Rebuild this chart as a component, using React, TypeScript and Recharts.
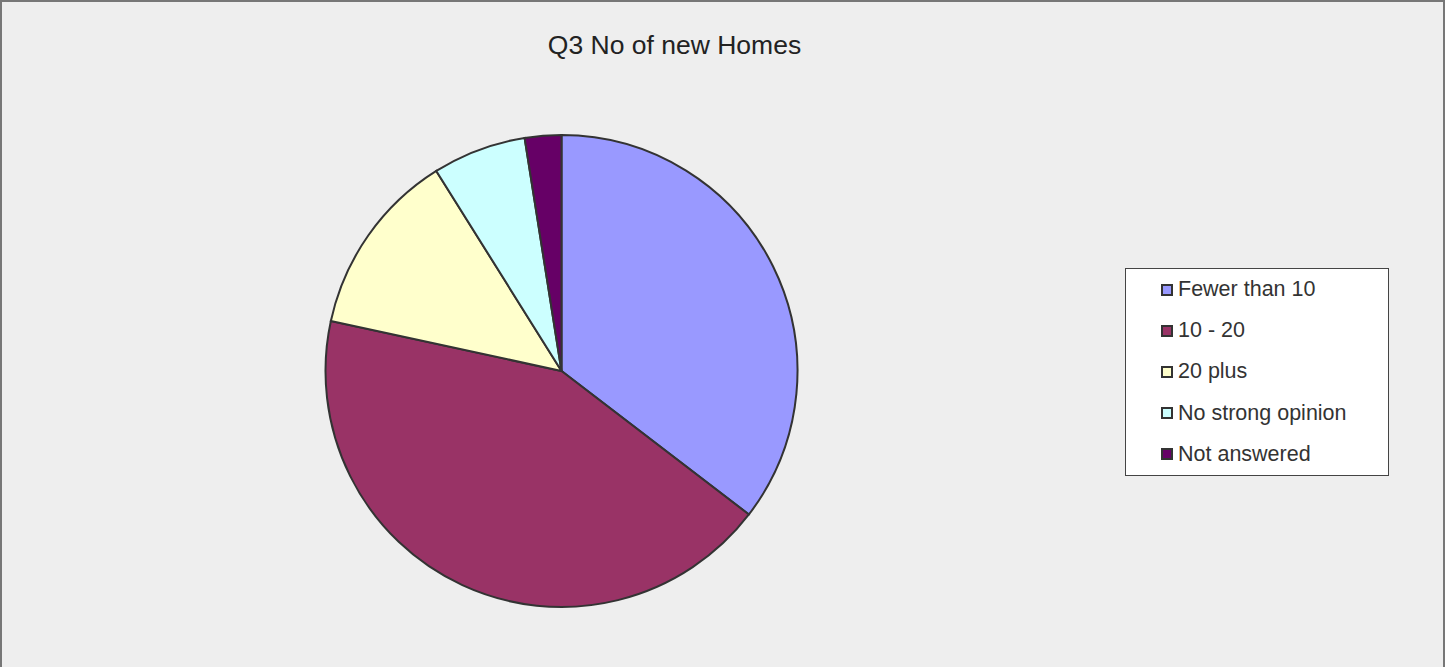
import { PieChart, Pie, Cell, Legend } from "recharts"

const categories = ["Fewer than 10", "10 - 20", "20 plus", "No strong opinion", "Not answered"]
const responses = [35.4, 43.0, 12.7, 6.4, 2.5]
const colors = ["#9999FF", "#993366", "#FFFFCC", "#CCFFFF", "#660066"]

const data = categories.map((name, i) => ({ name, value: responses[i] }))

const font = "'Liberation Sans', Arial, sans-serif"

function LegendBox() {
  return (
    <div
      style={{
        width: 264,
        height: 208,
        boxSizing: "border-box",
        background: "#fff",
        border: "1px solid #444",
        padding: "0 0 0 35px",
        fontFamily: font,
        fontSize: 21.5,
        color: "#333",
      }}
    >
      {data.map((d, i) => (
        <div key={d.name} style={{ display: "flex", alignItems: "center", height: 41.2 }}>
          <span
            style={{
              width: 8,
              height: 8,
              border: "2px solid #333",
              background: colors[i],
              marginRight: 5,
            }}
          />
          {d.name}
        </div>
      ))}
    </div>
  )
}

export default function App() {
  return (
    <div
      style={{
        position: "absolute",
        left: 0,
        top: 0,
        width: 1445,
        height: 667,
        background: "#EEEEEE",
        boxSizing: "border-box",
        borderTop: "2px solid #777",
        borderLeft: "2px solid #777",
        borderRight: "2px solid #777",
        overflow: "hidden",
      }}
    >
      <div
        style={{
          position: "absolute",
          left: 0,
          top: 28,
          width: 1345,
          textAlign: "center",
          fontFamily: font,
          fontSize: 26.5,
          color: "#222",
        }}
      >
        Q3 No of new Homes
      </div>
      <div style={{ position: "absolute", left: -2, top: -2 }}>
        <PieChart width={1445} height={667}>
          <Pie
            data={data}
            dataKey="value"
            nameKey="name"
            cx={556.5}
            cy={366}
            outerRadius={236}
            startAngle={90}
            endAngle={-270}
            stroke="#333"
            strokeWidth={2}
            isAnimationActive={false}
          >
            {data.map((d, i) => (
              <Cell key={d.name} fill={colors[i]} />
            ))}
          </Pie>
          <Legend
            layout="vertical"
            content={() => <LegendBox />}
            wrapperStyle={{ position: "absolute", left: 1125, top: 268, width: 264 }}
          />
        </PieChart>
      </div>
    </div>
  )
}
